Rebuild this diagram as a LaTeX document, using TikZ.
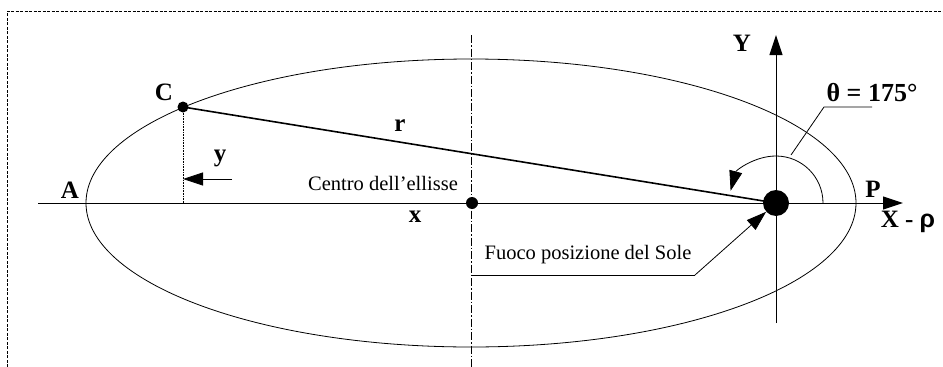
\documentclass[tikz,border=0pt]{standalone}
\usepackage{fontspec}
\setmainfont{Liberation Serif}
\setsansfont{Liberation Sans}
\usetikzlibrary{arrows.meta}
\begin{document}
\begin{tikzpicture}[x=1pt,y=-1pt,
  big/.style={-{Triangle[length=20pt,width=13pt]}},
  bl/.style={inner sep=0pt,font=\fontsize{25}{28}\selectfont\bfseries},
  nl/.style={inner sep=0pt,font=\fontsize{20.5}{24}\selectfont},
  dotn/.style={circle,fill=black,inner sep=0pt,minimum size=#1},
  thin line/.style={line width=0.8pt},
  axis line/.style={line width=1pt}]
\useasboundingbox (0,0) rectangle (943,367);
% frame
\draw[line width=0.6pt,dash pattern=on 3pt off 1.5pt] (7,367) -- (7,11) -- (943,11);
% ellipse
\draw[thin line] (471,203) ellipse [x radius=385, y radius=144];
% centre line
\coordinate (ct) at (471,35);
\coordinate (cb) at (471,367);
\draw[line width=0.6pt,dash pattern=on 8pt off 2pt on 1.5pt off 2pt] (ct) -- (cb);
% axes
\coordinate (xl) at (38,203);
\coordinate (xr) at (903,203);
\coordinate (yb) at (776,323);
\coordinate (yt) at (776,35);
\draw[axis line,big] (xl) -- (xr);
\draw[axis line,big] (yb) -- (yt);
% points
\node[dotn=12pt] (O) at (472,203) {};
\node[dotn=26pt] (F) at (776,203) {};
\node[dotn=11pt] (Cp) at (183,107) {};
% r
\draw[line width=1.6pt] (Cp.center) -- (F.center);
\node[bl] (rl) at (400,126) {r};
% C perpendicular
\coordinate (Cf) at (183,203);
\draw[line width=0.6pt,densely dotted] (Cp) -- (Cf);
\coordinate (ys) at (232,179);
\coordinate (ye) at (183,179);
\draw[thin line,big] (ys) -- (ye);
% labels
\node[bl] (Cl) at (164,92) {C};
\node[bl] (Al) at (70,190) {A};
\node[bl] (yl) at (220,158) {y};
\node[bl] (Pl) at (873,189) {P};
\node[bl] (Yl) at (742,43) {Y};
\node[bl] (Xl) at (908,222) {X - {\sffamily ρ}};
\node[bl] (xl2) at (415,217) {x};
\node[nl] (cen) at (383,183) {Centro dell’ellisse};
\node[nl] (fuo) at (588,255) {Fuoco posizione del Sole};
% theta
\draw[thin line,big] ([xshift=47pt]F.center) arc[start angle=0,end angle=-165,radius=47];
\node[bl,font=\fontsize{26}{30}\selectfont\bfseries] (th) at (872,93) {θ = 175°};
\coordinate (t1) at (872,107);
\coordinate (t2) at (824,107);
\coordinate (t3) at (791,155);
\draw[thin line] (t1) -- (t2) -- (t3);
% Fuoco leader
\coordinate (f1) at (472,275);
\coordinate (f2) at (695,275);
\draw[thin line] (f1) -- (f2);
\draw[thin line,big] (f2) -- (F);
\end{tikzpicture}
\end{document}
